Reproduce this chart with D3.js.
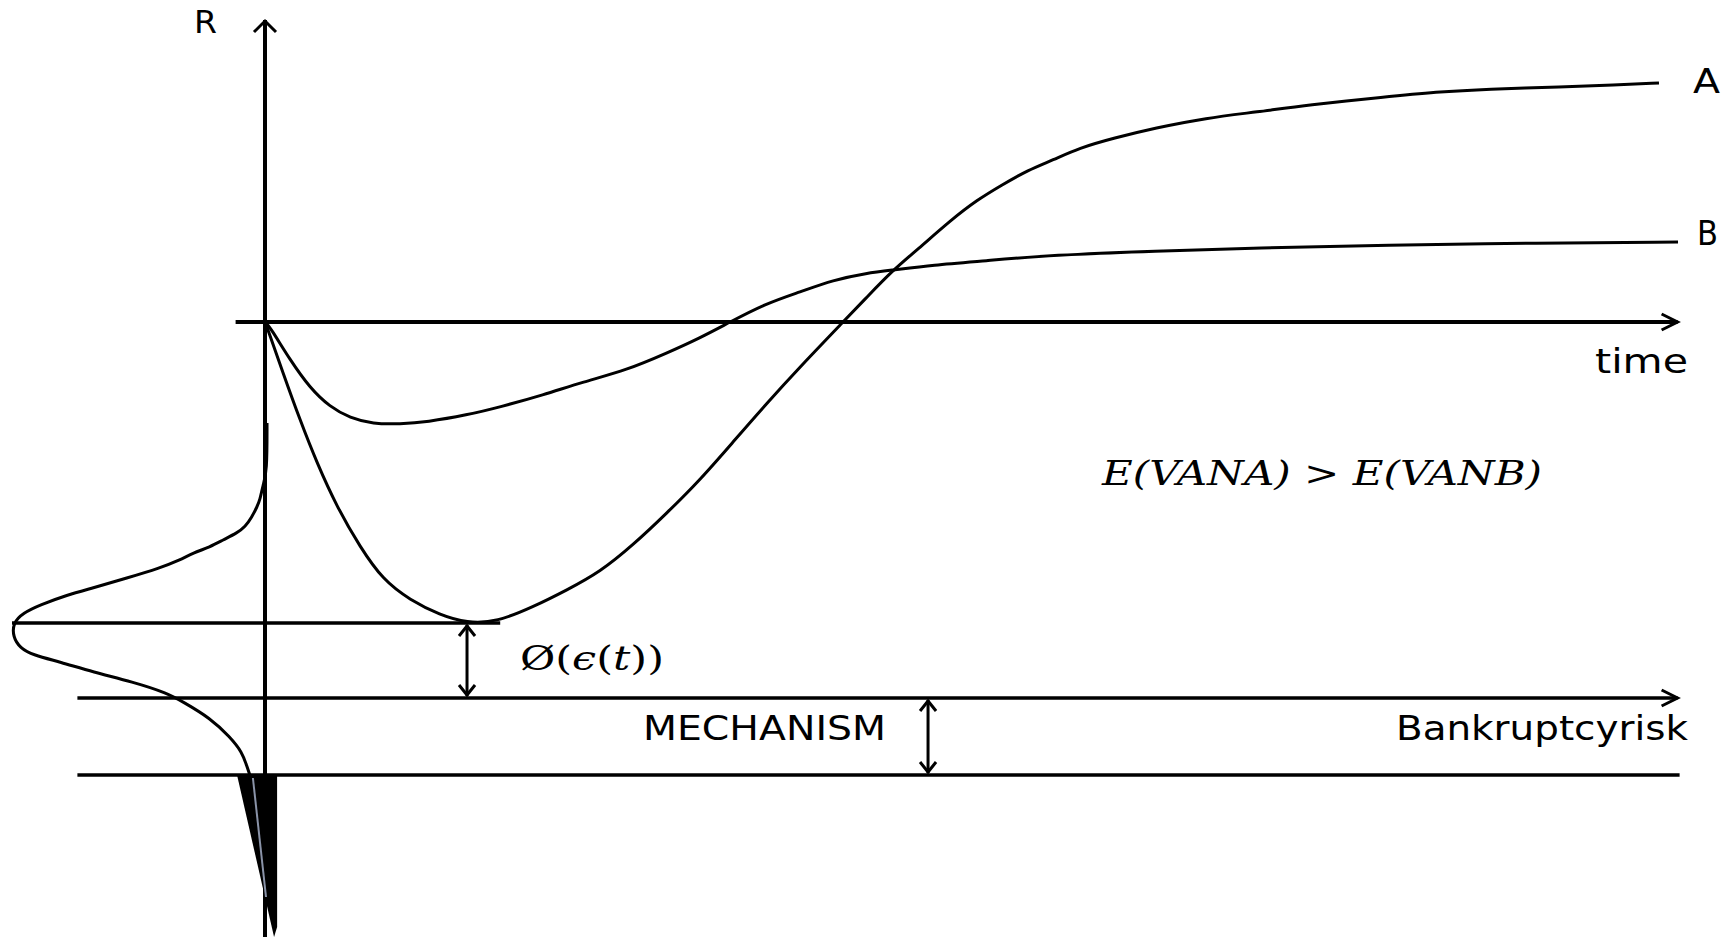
<!DOCTYPE html>
<html>
<head>
<meta charset="utf-8">
<script src="https://cdn.jsdelivr.net/npm/d3@7"></script>
<style>
  body { margin: 0; background: #fff; }
  text { font-family: "DejaVu Sans", sans-serif; fill: #000; }
</style>
</head>
<body>
<div id="canvas"></div>
<script>
"use strict"

/* drawing size */
let svgWidth = 1733;
let svgHeight = 937;

/* project A: return R over time (t, R) */
let curveA = [
    [0, 0], [0.14, -0.5], [1.29, -5.1], [2.5, -9.8], [3.71, -14.1], [5.14, -18.5],
    [6.79, -22.5], [8.43, -25.8], [10.36, -27.8], [12.5, -29.3], [14.43, -30.1],
    [16.57, -30.0], [19.14, -28.5], [21.57, -26.8], [23.93, -25.0], [26.29, -22.3],
    [28.71, -19.1], [31.07, -15.8], [33.43, -12.0], [35.86, -8.1], [38.21, -4.5],
    [41.29, 0], [43.0, 2.5], [44.86, 5.2], [46.57, 7.2], [49.0, 10.2], [50.86, 12.2],
    [52.64, 13.7], [54.5, 15.2], [56.29, 16.2], [58.14, 17.4], [60.64, 18.4],
    [63.57, 19.4], [67.21, 20.4], [70.86, 21.0], [74.5, 21.7], [80.0, 22.5],
    [83.64, 23.0], [87.29, 23.3], [92.71, 23.5], [96.36, 23.7], [99.57, 23.9]
];

/* project B: return R over time (t, R) */
let curveB = [
    [0, 0], [0.36, -0.5], [1.79, -3.8], [3.21, -6.6], [4.64, -8.5], [6.07, -9.6],
    [7.71, -10.2], [9.64, -10.2], [11.57, -10.0], [14.43, -9.3], [16.79, -8.5],
    [19.86, -7.3], [22.71, -6.0], [25.86, -4.8], [28.71, -3.1], [31.07, -1.6],
    [33.21, 0], [35.86, 1.9], [38.21, 3.0], [40.57, 4.2], [43.0, 4.9], [44.86, 5.2],
    [47.71, 5.7], [51.29, 6.1], [56.29, 6.7], [63.57, 7.1], [70.86, 7.4],
    [80.0, 7.7], [90.93, 7.9], [100.93, 8.0]
];

/* distribution of R drawn to the left of the axis (density, R) */
let density = [
    [-0.008, -10.1], [-0.008, -15.0], [0.008, -16.3], [0.02, -17.8], [0.032, -18.5],
    [0.052, -19.5], [0.079, -20.5], [0.111, -21.1], [0.167, -21.8], [0.218, -22.5],
    [0.286, -23.1], [0.337, -23.8], [0.417, -24.6], [0.548, -25.6], [0.683, -26.6],
    [0.786, -27.3], [0.893, -28.3], [0.96, -29.1], [1.0, -30.1], [1.0, -31.5],
    [0.972, -32.6], [0.921, -33.3], [0.813, -34.0], [0.683, -35.0], [0.524, -36.0],
    [0.389, -37.1], [0.325, -38.0], [0.218, -39.6], [0.139, -41.5], [0.091, -43.0],
    [0.071, -44.5], [0.06, -45.3]
];

/* black tail below the floor line (density, R) */
let tailWedge = [[0.111, -45.3], [-0.048, -45.3], [-0.048, -60.5], [-0.036, -61.5]];
let tailStreak = [[0.048, -45.6], [-0.004, -57.5]];

/* levels of R */
let phiLevel = -30.1;
let bankruptcyLevel = -37.6;
let floorLevel = -45.3;

/* extents of axes and guide lines */
let timeAxis = [-2.1, 100.9];
let rAxis = [-61.5, 30.2];
let phiLineEnd = 16.8;
let lowerLines = [-13.4, 100.9];
let phiArrowT = 14.43;
let mechanismArrowT = 47.36;

/* scales */
let xScale = d3.scaleLinear().domain([0, 100]).range([265, 1665]);
let yScale = d3.scaleLinear().domain([-61.5, 30.2]).range([937, 20]);
let dScale = d3.scaleLinear().domain([0, 1]).range([265, 13]);

let svg = d3.select("#canvas")
    .append("svg")
    .attr("width", svgWidth)
    .attr("height", svgHeight)
    .style("display", "block");

svg.append("rect")
    .attr("width", svgWidth)
    .attr("height", svgHeight)
    .attr("fill", "#fff");

/* helpers */
function hLine(x1, x2, y, w) {
    svg.append("line")
        .attr("x1", x1).attr("x2", x2)
        .attr("y1", y).attr("y2", y)
        .attr("stroke", "#000")
        .attr("stroke-width", w);
}

function chevron(points) {
    svg.append("path")
        .attr("d", d3.line()(points))
        .attr("fill", "none")
        .attr("stroke", "#000")
        .attr("stroke-width", 3);
}

/* y axis R */
let x0 = xScale(0);
svg.append("line")
    .attr("x1", x0).attr("x2", x0)
    .attr("y1", yScale(rAxis[0])).attr("y2", yScale(rAxis[1]))
    .attr("stroke", "#000")
    .attr("stroke-width", 4);
let yTop = yScale(rAxis[1]);
chevron([[x0 - 11, yTop + 12], [x0, yTop + 1], [x0 + 11, yTop + 12]]);

/* time axis */
let y0 = yScale(0);
hLine(xScale(timeAxis[0]), xScale(timeAxis[1]), y0, 4);
let tEnd = xScale(timeAxis[1]);
chevron([[tEnd - 16, y0 - 8], [tEnd, y0], [tEnd - 16, y0 + 8]]);

/* phi line, bankruptcy line, floor line */
hLine(dScale(1) - 1, xScale(phiLineEnd), yScale(phiLevel), 3.5);
let yBank = yScale(bankruptcyLevel);
hLine(xScale(lowerLines[0]), xScale(lowerLines[1]), yBank, 3.5);
let bEnd = xScale(lowerLines[1]);
chevron([[bEnd - 16, yBank - 8], [bEnd, yBank], [bEnd - 16, yBank + 8]]);
hLine(xScale(lowerLines[0]), xScale(lowerLines[1]) + 2, yScale(floorLevel), 3.5);

/* double arrows */
function doubleArrow(t, r1, r2) {
    let x = xScale(t);
    let y1 = yScale(r1) + 2;
    let y2 = yScale(r2) - 2;
    svg.append("line")
        .attr("x1", x).attr("x2", x)
        .attr("y1", y1).attr("y2", y2)
        .attr("stroke", "#000")
        .attr("stroke-width", 3);
    chevron([[x - 8, y1 + 11], [x, y1 + 1], [x + 8, y1 + 11]]);
    chevron([[x - 8, y2 - 11], [x, y2 - 1], [x + 8, y2 - 11]]);
}
doubleArrow(phiArrowT, phiLevel, bankruptcyLevel);
doubleArrow(mechanismArrowT, bankruptcyLevel, floorLevel);

/* curves A and B */
let lineTR = d3.line()
    .x(d => xScale(d[0]))
    .y(d => yScale(d[1]))
    .curve(d3.curveBasis);

[curveA, curveB].forEach(function(data) {
    svg.append("path")
        .attr("d", lineTR(data))
        .attr("fill", "none")
        .attr("stroke", "#000")
        .attr("stroke-width", 3);
});

/* distribution */
let lineDR = d3.line()
    .x(d => dScale(d[0]))
    .y(d => yScale(d[1]))
    .curve(d3.curveBasis);

svg.append("path")
    .attr("d", lineDR(density))
    .attr("fill", "none")
    .attr("stroke", "#000")
    .attr("stroke-width", 3);

let lineWedge = d3.line()
    .x(d => dScale(d[0]))
    .y(d => yScale(d[1]));

svg.append("path")
    .attr("d", lineWedge(tailWedge) + "Z")
    .attr("fill", "#000");

svg.append("path")
    .attr("d", lineWedge(tailStreak))
    .attr("stroke", "#8a93a8")
    .attr("stroke-width", 2);

/* labels */
let labels = [
    { text: "R", x: 194, y: 33, size: 32, len: 23 },
    { text: "A", x: 1693, y: 93, size: 33, len: 27 },
    { text: "B", x: 1697, y: 245, size: 33, len: 21 },
    { text: "time", x: 1595, y: 373, size: 33, len: 93 },
    { text: "MECHANISM", x: 643, y: 740, size: 33, len: 243 },
    { text: "Bankruptcyrisk", x: 1396, y: 740, size: 33, len: 292 }
];

labels.forEach(function(d) {
    svg.append("text")
        .attr("x", d.x)
        .attr("y", d.y)
        .attr("font-size", d.size)
        .attr("textLength", d.len)
        .attr("lengthAdjust", "spacingAndGlyphs")
        .text(d.text);
});

/* E(VANA) > E(VANB) */
svg.append("text")
    .attr("x", 1102)
    .attr("y", 485)
    .attr("font-size", 34)
    .attr("font-style", "italic")
    .attr("textLength", 440)
    .attr("lengthAdjust", "spacingAndGlyphs")
    .style("font-family", "'DejaVu Serif', serif")
    .text("E(VANA) > E(VANB)");

/* phi(epsilon(t)) */
let phi = svg.append("text")
    .attr("x", 520)
    .attr("y", 670)
    .attr("font-size", 33)
    .attr("textLength", 144)
    .attr("lengthAdjust", "spacingAndGlyphs")
    .style("font-family", "'DejaVu Serif', serif");
phi.append("tspan").text("Ø(");
phi.append("tspan").attr("font-style", "italic").text("ϵ");
phi.append("tspan").text("(");
phi.append("tspan").attr("font-style", "italic").text("t");
phi.append("tspan").text("))");
</script>
</body>
</html>
